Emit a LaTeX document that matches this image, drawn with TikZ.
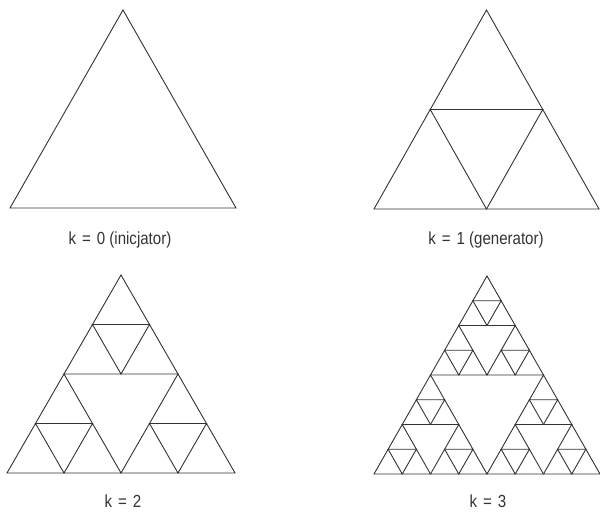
\documentclass[tikz,border=0pt]{standalone}
\usepackage{fontspec}
\setmainfont[FakeStretch=0.86]{Liberation Sans}
\newcommand{\eqsp}{\ \hspace{0.1em}=\hspace{0.1em}\ }
\begin{document}
\begin{tikzpicture}[x=1pt,y=1pt,
  tri/.style={draw=black!80,line width=0.9pt,line join=miter},
  lab/.style={font=\fontsize{17.5}{20}\selectfont,text=black!80,inner sep=0pt}]
\useasboundingbox (0,0) rectangle (600,515);
% k = 0
\begin{scope}[shift={(10,307)},x={(226pt,0pt)},y={(0pt,198pt)}]
  \draw[tri] (0,0) -- (1,0) -- (0.5,1) -- cycle;
\end{scope}
% k = 1
\begin{scope}[shift={(374,306)},x={(225pt,0pt)},y={(0pt,199pt)}]
  \foreach \ax/\ay in {0/0,0.5/0,0.25/0.5}
    \draw[tri,shift={(\ax,\ay)}] (0,0) -- (0.5,0) -- (0.25,0.5) -- cycle;
\end{scope}
% k = 2
\begin{scope}[shift={(7,42)},x={(228pt,0pt)},y={(0pt,198pt)}]
  \foreach \ax/\ay in {0/0,0.5/0,0.25/0.5}
  \foreach \bx/\by in {0/0,0.25/0,0.125/0.25}
    \draw[tri,shift={(\ax+\bx,\ay+\by)}] (0,0) -- (0.25,0) -- (0.125,0.25) -- cycle;
\end{scope}
% k = 3
\begin{scope}[shift={(374,41)},x={(226pt,0pt)},y={(0pt,198pt)}]
  \foreach \ax/\ay in {0/0,0.5/0,0.25/0.5}
  \foreach \bx/\by in {0/0,0.25/0,0.125/0.25}
  \foreach \cx/\cy in {0/0,0.125/0,0.0625/0.125}
    \draw[tri,shift={(\ax+\bx+\cx,\ay+\by+\cy)}] (0,0) -- (0.125,0) -- (0.0625,0.125) -- cycle;
\end{scope}
\node[lab] (l0) at (120,275) {k\eqsp{}0 (inicjator)};
\node[lab] (l1) at (486,275) {k\eqsp{}1 (generator)};
\node[lab] (l2) at (123,14) {k\eqsp{}2};
\node[lab] (l3) at (488,14) {k\eqsp{}3};
\end{tikzpicture}
\end{document}
